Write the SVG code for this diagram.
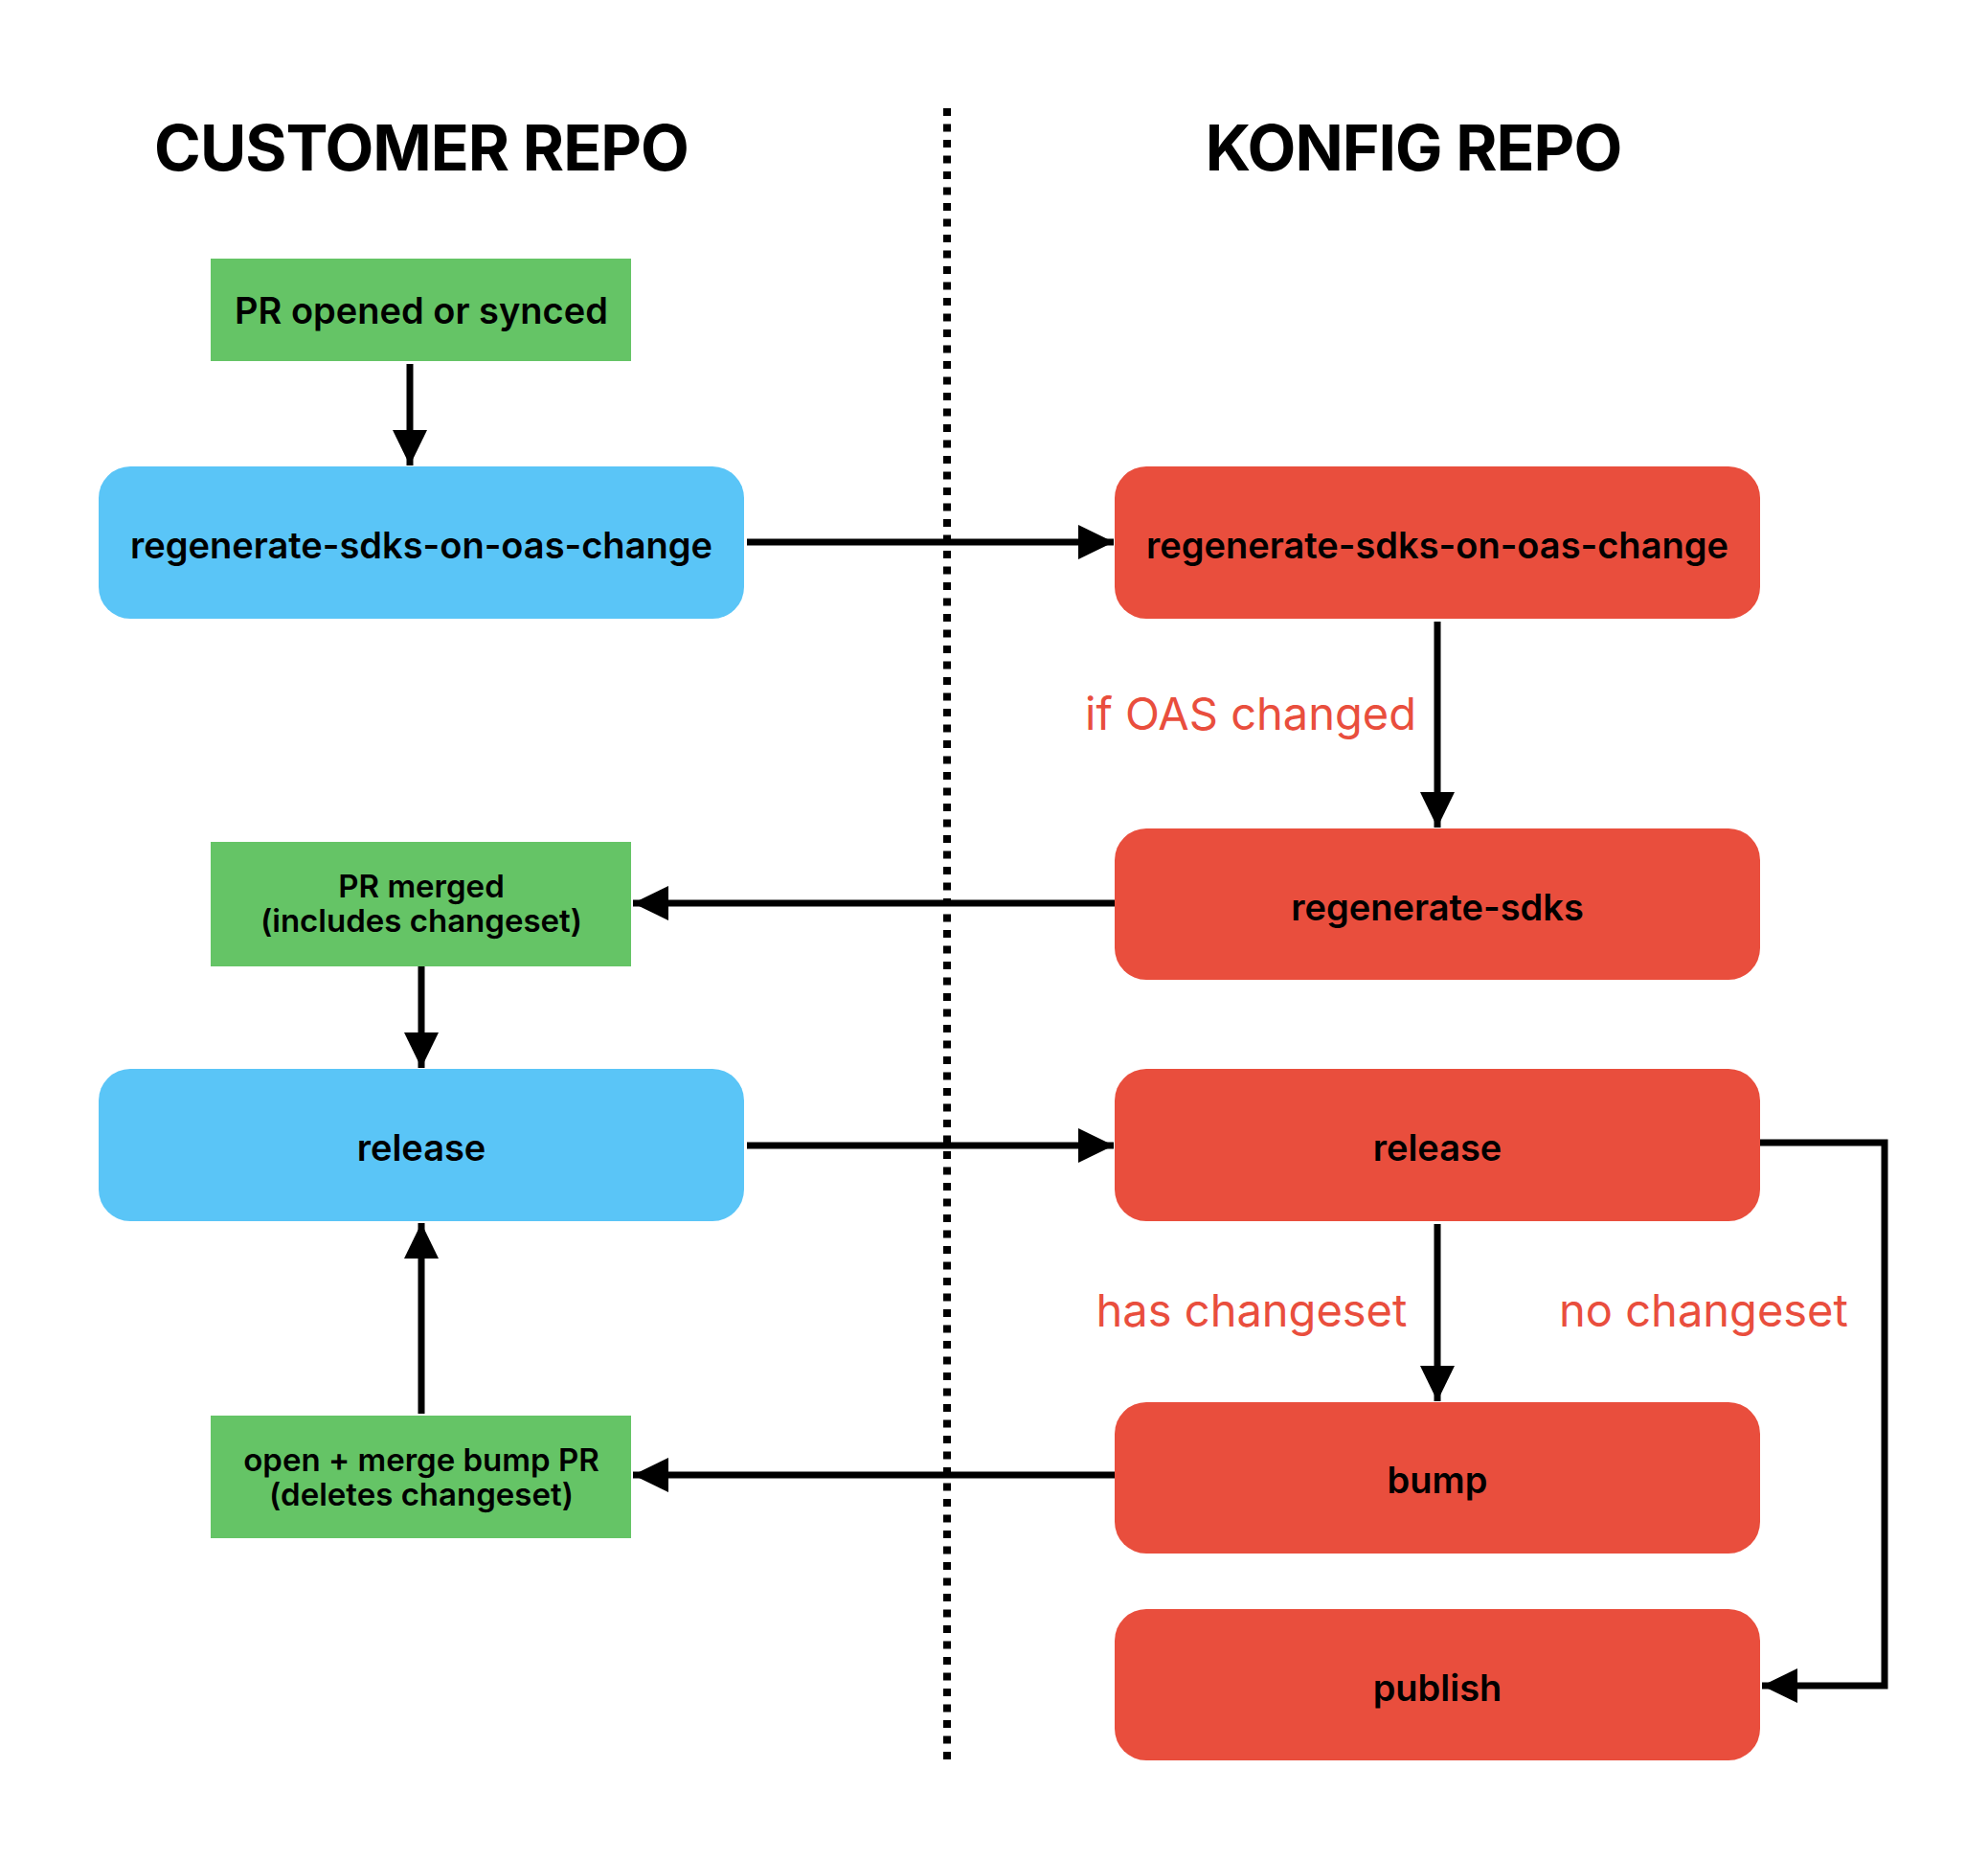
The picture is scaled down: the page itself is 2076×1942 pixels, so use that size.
<svg xmlns="http://www.w3.org/2000/svg" width="2076" height="1942" viewBox="0 0 2076 1942">
<style>
.g{fill:#65C466}
.b{fill:#5AC5F7}
.r{fill:#E94E3D}
.t{font-family:Inter,"Liberation Sans",sans-serif;font-weight:600;font-size:38px;fill:#000;text-anchor:middle;dominant-baseline:central}
.ts{font-family:Inter,"Liberation Sans",sans-serif;font-weight:600;font-size:33px;fill:#000;text-anchor:middle}
.h{font-family:Inter,"Liberation Sans",sans-serif;font-weight:700;font-size:66px;fill:#000;text-anchor:middle;letter-spacing:-1px}
.lbl{font-family:Inter,"Liberation Sans",sans-serif;font-weight:400;font-size:47px;fill:#E94E3D;text-anchor:middle}
.c{stroke:#000;stroke-width:7;fill:none;marker-end:url(#ah)}
</style>
<defs>
<marker id="ah" markerUnits="userSpaceOnUse" markerWidth="37" markerHeight="36" refX="37" refY="18" orient="auto">
<path d="M0,0 L37,18 L0,36 z" fill="#000"/>
</marker>
</defs>
<rect width="2076" height="1942" fill="#fff"/>
<line x1="989" y1="113" x2="989" y2="1838" stroke="#000" stroke-width="8" stroke-dasharray="8 8.5"/>
<text class="h" x="440" y="178">CUSTOMER REPO</text>
<text class="h" x="1476" y="178">KONFIG REPO</text>
<g id="connectors">
<path class="c" d="M428,380 V486"/>
<path class="c" d="M780,566 H1163"/>
<path class="c" d="M1501,649 V864"/>
<path class="c" d="M1164,943 H661"/>
<path class="c" d="M440,1009 V1115"/>
<path class="c" d="M780,1196 H1163"/>
<path class="c" d="M1501,1278 V1463"/>
<path class="c" d="M1838,1193 H1968 V1760 H1840"/>
<path class="c" d="M1164,1540 H661"/>
<path class="c" d="M440,1476 V1277"/>
<text class="lbl" x="1306" y="762">if OAS changed</text>
<text class="lbl" x="1307" y="1385">has changeset</text>
<text class="lbl" x="1779" y="1385">no changeset</text>
</g>
<g id="pr-opened"><rect class="g" x="220" y="270" width="439" height="107"/><text class="t" x="440" y="324">PR opened or synced</text></g>
<g id="cust-regen"><rect class="b" x="103" y="487" width="674" height="159" rx="33"/><text class="t" x="440" y="569">regenerate-sdks-on-oas-change</text></g>
<g id="konfig-regen"><rect class="r" x="1164" y="487" width="674" height="159" rx="33"/><text class="t" x="1501" y="569">regenerate-sdks-on-oas-change</text></g>
<g id="regen-sdks"><rect class="r" x="1164" y="865" width="674" height="158" rx="33"/><text class="t" x="1501" y="947">regenerate-sdks</text></g>
<g id="pr-merged"><rect class="g" x="220" y="879" width="439" height="130"/><text class="ts" x="440" y="937">PR merged</text><text class="ts" x="440" y="973">(includes changeset)</text></g>
<g id="cust-release"><rect class="b" x="103" y="1116" width="674" height="159" rx="33"/><text class="t" x="440" y="1198">release</text></g>
<g id="konfig-release"><rect class="r" x="1164" y="1116" width="674" height="159" rx="33"/><text class="t" x="1501" y="1198">release</text></g>
<g id="bump"><rect class="r" x="1164" y="1464" width="674" height="158" rx="33"/><text class="t" x="1501" y="1545">bump</text></g>
<g id="bump-pr"><rect class="g" x="220" y="1478" width="439" height="128"/><text class="ts" x="440" y="1536">open + merge bump PR</text><text class="ts" x="440" y="1572">(deletes changeset)</text></g>
<g id="publish"><rect class="r" x="1164" y="1680" width="674" height="158" rx="33"/><text class="t" x="1501" y="1762">publish</text></g>
</svg>
